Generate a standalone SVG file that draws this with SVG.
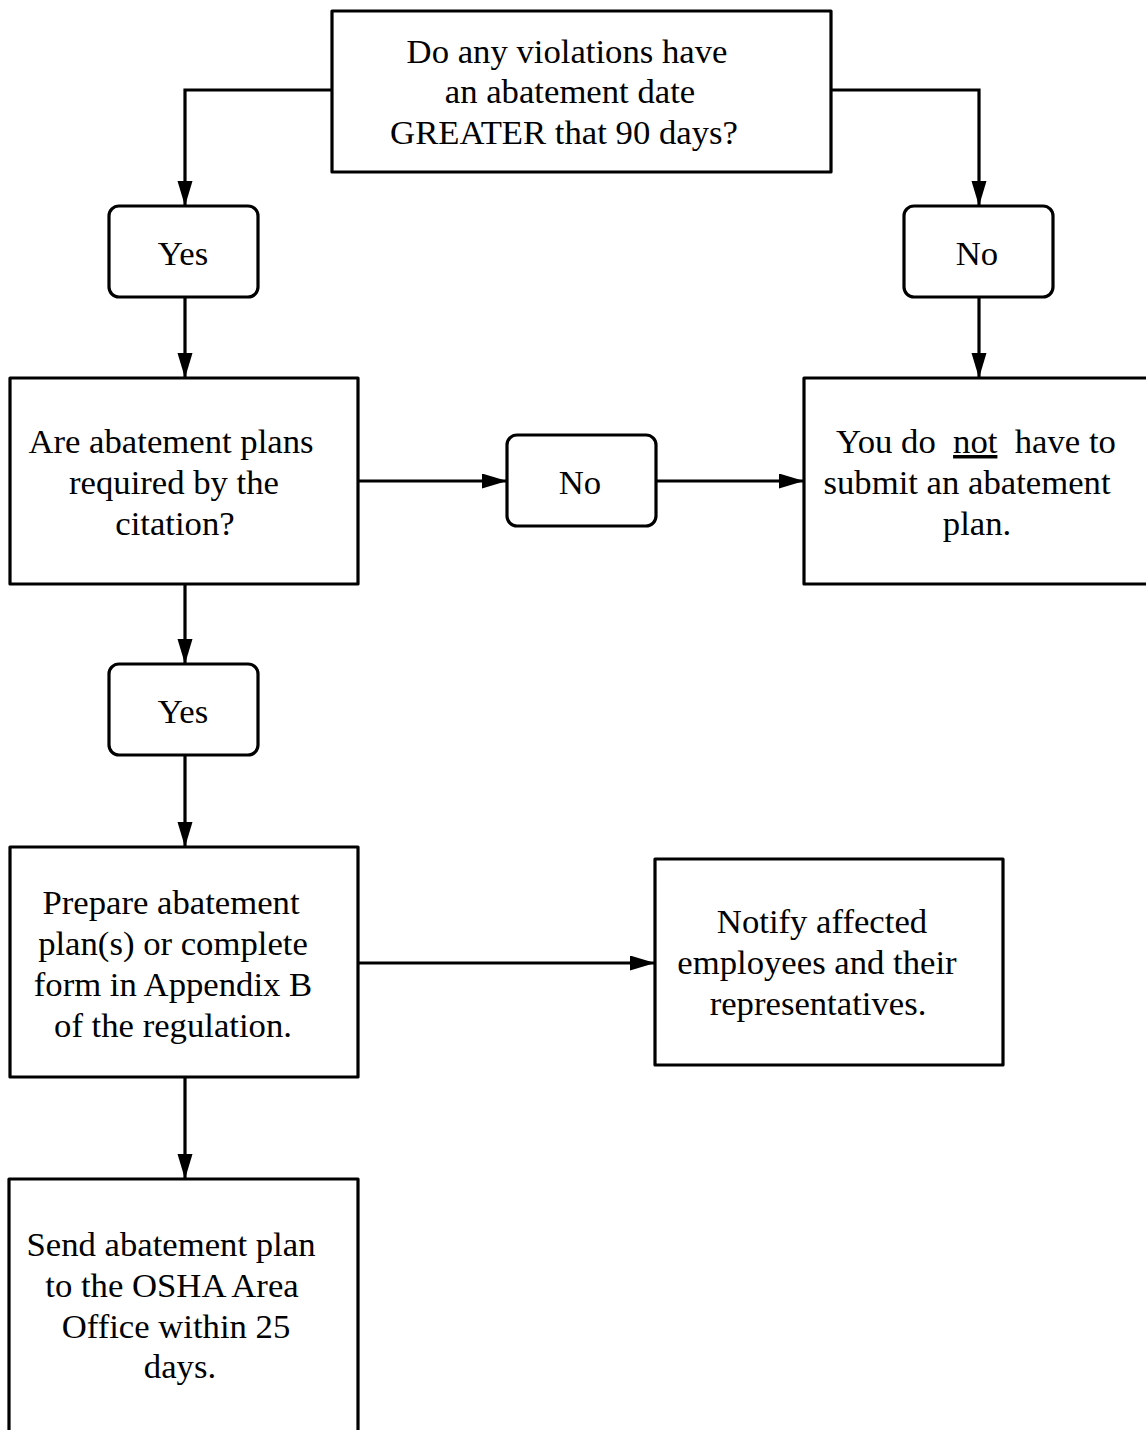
<svg xmlns="http://www.w3.org/2000/svg" width="1146" height="1430" viewBox="0 0 1146 1430">
<style>
.box{fill:#fff;stroke:#000;stroke-width:3.2;stroke-linejoin:round}
.t{font-family:"Liberation Serif","Times New Roman",serif;font-size:34.7px;fill:#000;text-anchor:middle}
.c{fill:none;stroke:#000;stroke-width:3.2}
</style>
<defs>
<marker id="ah" markerUnits="userSpaceOnUse" markerWidth="26" markerHeight="16" refX="25" refY="7.5" orient="auto">
<path d="M0,0 L25,7.5 L0,15 z" fill="#000"/>
</marker>
</defs>
<rect width="1146" height="1430" fill="#fff"/>
<g id="connectors">
<polyline class="c" points="332,90 185,90 185,206" marker-end="url(#ah)"/>
<polyline class="c" points="831,90 979,90 979,206" marker-end="url(#ah)"/>
<line class="c" x1="185" y1="297" x2="185" y2="378" marker-end="url(#ah)"/>
<line class="c" x1="979" y1="297" x2="979" y2="378" marker-end="url(#ah)"/>
<line class="c" x1="358" y1="481" x2="507" y2="481" marker-end="url(#ah)"/>
<line class="c" x1="656" y1="481" x2="804" y2="481" marker-end="url(#ah)"/>
<line class="c" x1="185" y1="584" x2="185" y2="664" marker-end="url(#ah)"/>
<line class="c" x1="185" y1="755" x2="185" y2="847" marker-end="url(#ah)"/>
<line class="c" x1="358" y1="963" x2="655" y2="963" marker-end="url(#ah)"/>
<line class="c" x1="185" y1="1077" x2="185" y2="1179" marker-end="url(#ah)"/>
</g>
<g id="q1">
<rect class="box" x="332" y="11" width="499" height="161"/>
<text class="t" x="567" y="63">Do any violations have</text>
<text class="t" x="570" y="103">an abatement date</text>
<text class="t" x="564" y="144">GREATER that 90 days?</text>
</g>
<g id="yes1">
<rect class="box" x="109" y="206" width="149" height="91" rx="10"/>
<text class="t" x="183" y="265">Yes</text>
</g>
<g id="no1">
<rect class="box" x="904" y="206" width="149" height="91" rx="10"/>
<text class="t" x="977" y="265">No</text>
</g>
<g id="q2">
<rect class="box" x="10" y="378" width="348" height="206"/>
<text class="t" x="171" y="453">Are abatement plans</text>
<text class="t" x="174" y="494">required by the</text>
<text class="t" x="175" y="535">citation?</text>
</g>
<g id="no2">
<rect class="box" x="507" y="435" width="149" height="91" rx="10"/>
<text class="t" x="580" y="494">No</text>
</g>
<g id="noplan">
<rect class="box" x="804" y="378" width="350" height="206"/>
<text class="t" x="976" y="453" xml:space="preserve">You do  <tspan text-decoration="underline">not</tspan>  have to</text>
<text class="t" x="967" y="494">submit an abatement</text>
<text class="t" x="977" y="535">plan.</text>
</g>
<g id="yes2">
<rect class="box" x="109" y="664" width="149" height="91" rx="10"/>
<text class="t" x="183" y="723">Yes</text>
</g>
<g id="prepare">
<rect class="box" x="10" y="847" width="348" height="230"/>
<text class="t" x="171" y="914">Prepare abatement</text>
<text class="t" x="173" y="955">plan(s) or complete</text>
<text class="t" x="173" y="996">form in Appendix B</text>
<text class="t" x="173" y="1037">of the regulation.</text>
</g>
<g id="notify">
<rect class="box" x="655" y="859" width="348" height="206"/>
<text class="t" x="822" y="933">Notify affected</text>
<text class="t" x="817" y="974">employees and their</text>
<text class="t" x="818" y="1015">representatives.</text>
</g>
<g id="send">
<rect class="box" x="9" y="1179" width="349" height="270"/>
<text class="t" x="171" y="1256">Send abatement plan</text>
<text class="t" x="172" y="1297">to the OSHA Area</text>
<text class="t" x="176" y="1338">Office within 25</text>
<text class="t" x="180" y="1378">days.</text>
</g>
</svg>
